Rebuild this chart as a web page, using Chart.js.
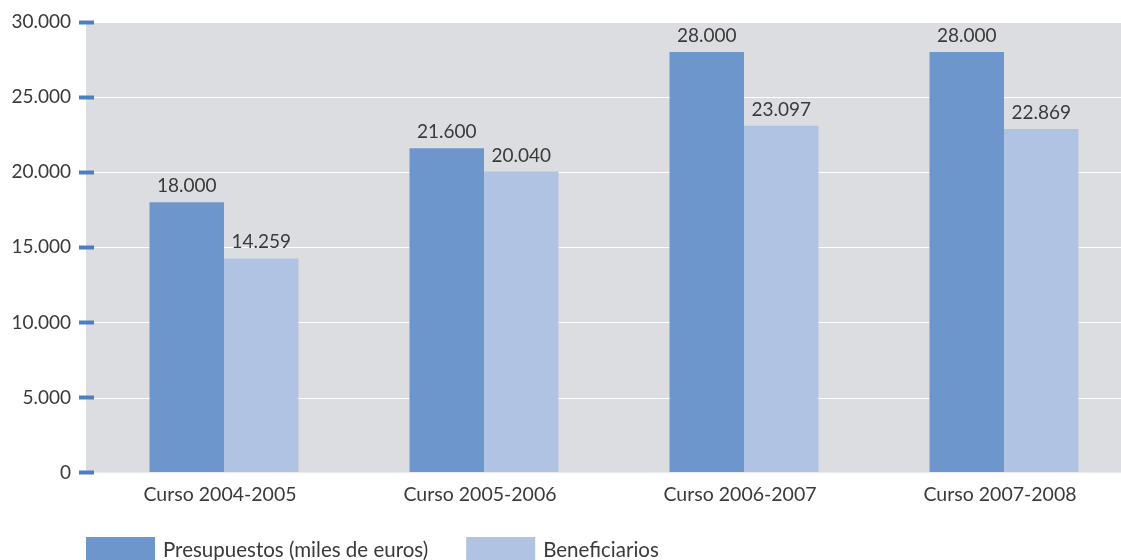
<!DOCTYPE html>
<html>
<head>
<meta charset="utf-8">
<script src="https://cdn.jsdelivr.net/npm/chart.js@4"></script>
<style>
  html, body { margin: 0; padding: 0; background: #fff; overflow: hidden; }
  #wrap { width: 1140px; height: 575px; }
</style>
</head>
<body>
<div id="wrap"><canvas id="chart" width="1140" height="575"></canvas></div>
<script>
var categories = ["Curso 2004-2005", "Curso 2005-2006", "Curso 2006-2007", "Curso 2007-2008"];
var presupuestos = [18000, 21600, 28000, 28000];
var beneficiarios = [14259, 20040, 23097, 22869];
var seriesNames = ["Presupuestos (miles de euros)", "Beneficiarios"];
var seriesColors = ["#6d96cc", "#b0c3e3"];
var yMax = 30000;
var yStep = 5000;

var FONT = "Lato, 'Open Sans', sans-serif";
var TEXT = "#3a3a3a";

function fmt(v) {
    return String(v).replace(/\B(?=(\d{3})+(?!\d))/g, ".");
}

// gray plot background + white gridlines (drawn before the axes so the blue ticks sit on top)
var plotBg = {
    id: "plotBg",
    beforeDraw: function(chart) {
        var a = chart.chartArea, ctx = chart.ctx, y = chart.scales.y;
        ctx.save();
        ctx.fillStyle = "#dcdde0";
        ctx.fillRect(a.left - 8, a.top, a.right - a.left + 8, a.bottom - a.top);
        ctx.strokeStyle = "#ffffff";
        ctx.lineWidth = 1;
        y.ticks.forEach(function(t) {
            if (t.value === 0) return;
            var py = Math.round(y.getPixelForValue(t.value)) + 0.5;
            ctx.beginPath();
            ctx.moveTo(a.left - 8, py);
            ctx.lineTo(a.right, py);
            ctx.stroke();
        });
        ctx.restore();
    }
};

// value labels above bars
var barLabels = {
    id: "barLabels",
    afterDatasetsDraw: function(chart) {
        var ctx = chart.ctx;
        ctx.save();
        ctx.font = "19px " + FONT;
        ctx.fillStyle = TEXT;
        ctx.textAlign = "center";
        ctx.textBaseline = "alphabetic";
        chart.data.datasets.forEach(function(ds, i) {
            chart.getDatasetMeta(i).data.forEach(function(bar, j) {
                ctx.fillText(fmt(ds.data[j]), bar.x, bar.y - 10);
            });
        });
        ctx.restore();
    }
};

// legend at the bottom left
var bottomLegend = {
    id: "bottomLegend",
    afterDraw: function(chart) {
        var ctx = chart.ctx;
        var x = 86, top = 537, boxW = 69, boxH = 26;
        ctx.save();
        ctx.font = "20.5px " + FONT;
        ctx.textBaseline = "middle";
        chart.data.datasets.forEach(function(ds) {
            ctx.fillStyle = ds.backgroundColor;
            ctx.fillRect(x, top, boxW, boxH);
            ctx.fillStyle = TEXT;
            ctx.fillText(ds.label, x + boxW + 8, top + boxH / 2);
            x += boxW + 8 + ctx.measureText(ds.label).width + 38;
        });
        ctx.restore();
    }
};

new Chart("chart", {
    type: "bar",
    data: {
        labels: categories,
        datasets: [
            { label: seriesNames[0], data: presupuestos, backgroundColor: seriesColors[0] },
            { label: seriesNames[1], data: beneficiarios, backgroundColor: seriesColors[1] }
        ]
    },
    options: {
        responsive: false,
        animation: false,
        layout: { padding: { top: 22, left: 0, right: 6, bottom: 59 } },
        datasets: { bar: { barPercentage: 1, categoryPercentage: 0.573 } },
        plugins: {
            legend: { display: false },
            tooltip: { enabled: false }
        },
        scales: {
            x: {
                grid: { display: false, drawTicks: false },
                border: { display: false },
                ticks: { color: TEXT, font: { family: FONT, size: 19.5 }, padding: 10, labelOffset: -4 }
            },
            y: {
                min: 0,
                max: yMax,
                afterFit: function(s) { s.width = 94; },
                grid: { drawOnChartArea: false, tickLength: 15, tickColor: "#4a7fc1", tickWidth: 4 },
                border: { display: false },
                ticks: {
                    stepSize: yStep,
                    padding: 8,
                    color: TEXT,
                    font: { family: FONT, size: 19 },
                    callback: function(v) { return fmt(v); }
                }
            }
        }
    },
    plugins: [plotBg, barLabels, bottomLegend]
});
</script>
</body>
</html>
